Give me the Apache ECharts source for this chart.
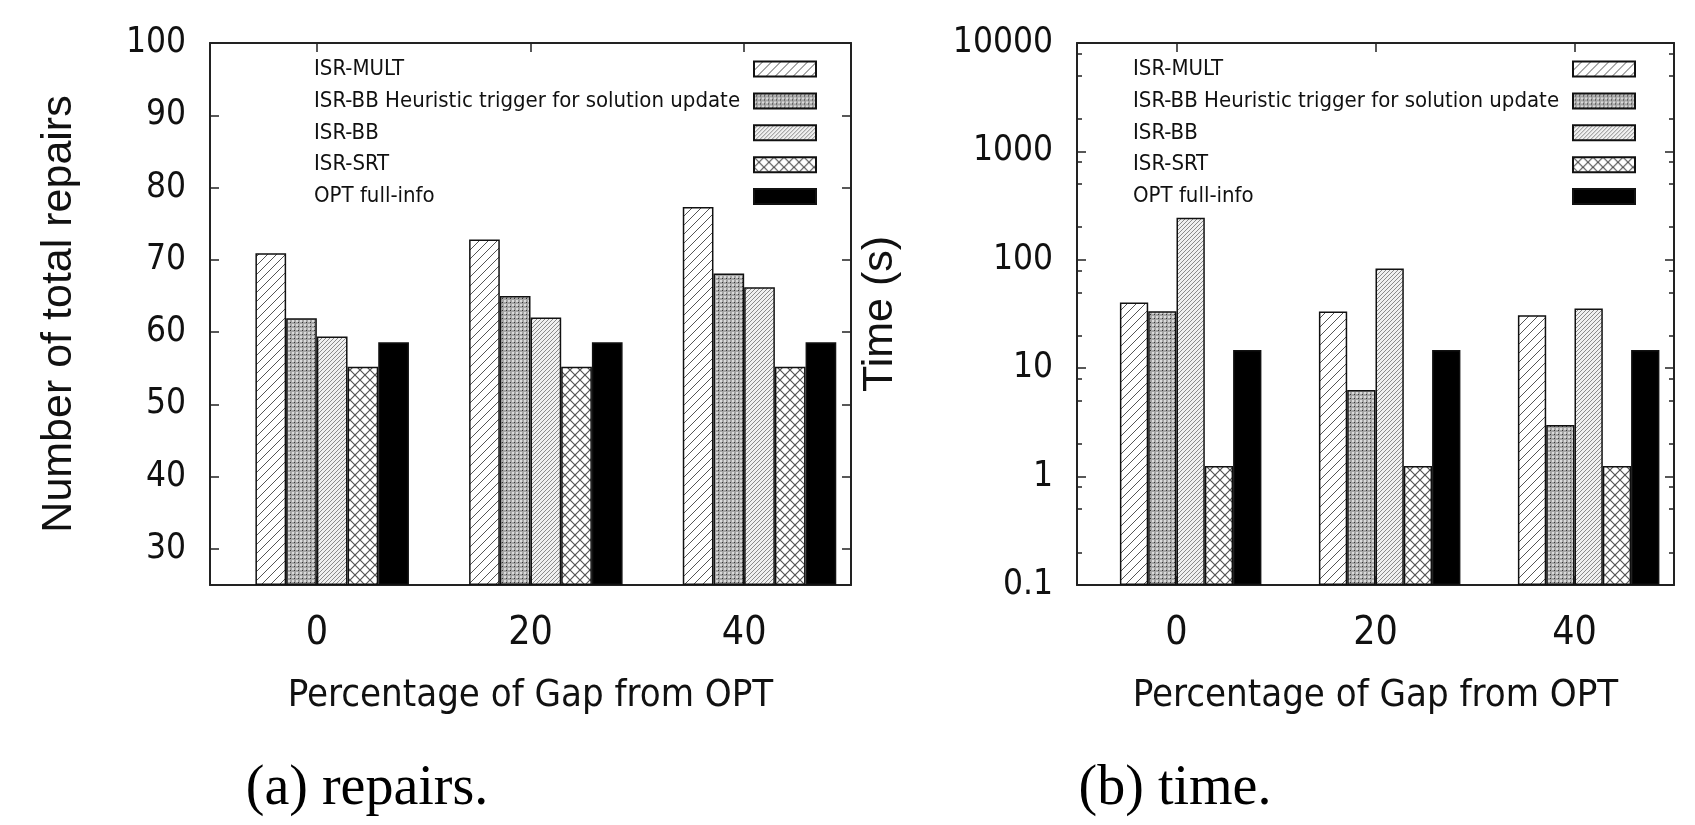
<!DOCTYPE html>
<html>
<head>
<meta charset="utf-8">
<script src="https://cdn.jsdelivr.net/npm/echarts@6/dist/echarts.min.js"></script>
<style>
  html, body { margin: 0; padding: 0; background: #fff; }
  #chart { width: 1695px; height: 825px; }
</style>
</head>
<body>
<div id="chart"></div>
<script>
  // x categories: percentage of gap from OPT
  const gaps = ['0', '20', '40']
  const seriesNames = ['ISR-MULT', 'ISR-BB Heuristic trigger for solution update', 'ISR-BB', 'ISR-SRT', 'OPT full-info']

  // (a) number of total repairs
  const repairsMult = [70.9, 72.8, 77.3]
  const repairsBBHeur = [61.9, 65.0, 68.1]
  const repairsBB = [59.4, 62.0, 66.2]
  const repairsSRT = [55.2, 55.2, 55.2]
  const repairsOPT = [58.6, 58.6, 58.6]

  // (b) time in seconds, log scale
  const timeMult = [40.4, 33.3, 30.8]
  const timeBBHeur = [33.6, 6.3, 3.0]
  const timeBB = [244, 83, 35.5]
  const timeSRT = [1.25, 1.25, 1.25]
  const timeOPT = [14.7, 14.7, 14.7]

  const repairsTicks = [30, 40, 50, 60, 70, 80, 90, 100]
  const timeMinorTicks = [0.2, 0.5, 0.8, 2, 5, 8, 20, 50, 80, 200, 500, 800, 2000, 5000, 8000]

  const narrow = '"Liberation Sans Narrow", "DejaVu Sans Condensed", sans-serif'
  const sans = '"Liberation Sans", Arial, sans-serif'
  const ink = '#111'

  // gnuplot-like fill patterns drawn on small tiles
  function makePattern (size, bg, draw) {
    let c = document.createElement('canvas')
    c.width = size
    c.height = size
    let ctx = c.getContext('2d')
    ctx.fillStyle = bg
    ctx.fillRect(0, 0, size, size)
    draw(ctx, size)
    return { image: c, repeat: 'repeat' }
  }
  function slash (ctx, s) {
    ctx.beginPath()
    ctx.moveTo(-1, s + 1); ctx.lineTo(s + 1, -1)
    ctx.moveTo(-1, 1); ctx.lineTo(1, -1)
    ctx.moveTo(s - 1, s + 1); ctx.lineTo(s + 1, s - 1)
    ctx.stroke()
  }
  function backslash (ctx, s) {
    ctx.beginPath()
    ctx.moveTo(-1, -1); ctx.lineTo(s + 1, s + 1)
    ctx.moveTo(s - 1, -1); ctx.lineTo(s + 1, 1)
    ctx.moveTo(-1, s - 1); ctx.lineTo(1, s + 1)
    ctx.stroke()
  }
  const fills = [
    makePattern(9, '#fff', (ctx, s) => { ctx.strokeStyle = '#555'; ctx.lineWidth = 1; slash(ctx, s) }),
    makePattern(4, '#a4a4a4', (ctx) => { ctx.fillStyle = '#dadada'; ctx.fillRect(0, 0, 2, 2); ctx.fillStyle = '#333'; ctx.fillRect(2, 2, 1, 1) }),
    makePattern(4, '#f0f0f0', (ctx, s) => { ctx.strokeStyle = '#8a8a8a'; ctx.lineWidth = 1; slash(ctx, s) }),
    makePattern(10, '#fff', (ctx, s) => { ctx.strokeStyle = '#555'; ctx.lineWidth = 1.2; slash(ctx, s); backslash(ctx, s) }),
    '#000'
  ]

  function buildSeries (lists, xIndex, yIndex, barWidth) {
    // empty leading slot: gnuplot leaves the cluster shifted right of the tic
    let out = [{
      name: 'gap', type: 'bar', xAxisIndex: xIndex, yAxisIndex: yIndex,
      barWidth: barWidth, barGap: '0%', silent: true, data: gaps.map(() => '-')
    }]
    lists.forEach((values, i) => {
      out.push({
        name: seriesNames[i],
        type: 'bar',
        xAxisIndex: xIndex,
        yAxisIndex: yIndex,
        barWidth: barWidth,
        barGap: '0%',
        itemStyle: { color: fills[i], borderColor: ink, borderWidth: 1.5 },
        data: values
      })
    })
    return out
  }

  const axisLine = { show: true, lineStyle: { color: '#222', width: 2 } }
  const tickIn = (len, extra) => Object.assign({ show: true, inside: true, length: len, lineStyle: { color: '#222', width: 1.5 } }, extra || {})

  function legendAt (left) {
    return {
      data: seriesNames,
      left: left,
      top: 58,
      orient: 'vertical',
      align: 'right',
      icon: 'rect',
      itemWidth: 62,
      itemHeight: 15,
      itemGap: 9.9,
      padding: 0,
      selectedMode: false,
      formatter: n => '{t|' + n + '}',
      textStyle: { rich: { t: { width: 435, align: 'left', fontFamily: narrow, fontSize: 22, lineHeight: 22, color: ink } } }
    }
  }

  function bottomAxis (gridIndex) {
    return {
      type: 'category', gridIndex: gridIndex, data: gaps, position: 'bottom',
      axisLine: Object.assign({ onZero: false }, axisLine),
      axisTick: tickIn(9, { alignWithLabel: true }),
      axisLabel: { margin: 29, fontFamily: narrow, fontSize: 39, color: ink },
      name: 'Percentage of Gap from OPT',
      nameLocation: 'middle',
      nameGap: 92,
      nameTextStyle: { fontFamily: narrow, fontSize: 38, color: ink }
    }
  }
  function topAxis (gridIndex) {
    return {
      type: 'category', gridIndex: gridIndex, data: gaps, position: 'top',
      axisLine: Object.assign({ onZero: false }, axisLine),
      axisTick: tickIn(9, { alignWithLabel: true }),
      axisLabel: { show: false }
    }
  }

  const option = {
    animation: false,
    grid: [
      { left: 210, top: 43, width: 641, height: 542 },
      { left: 1077, top: 43, width: 597, height: 542 }
    ],
    legend: [legendAt(314), legendAt(1133)],
    xAxis: [bottomAxis(0), topAxis(0), bottomAxis(1), topAxis(1)],
    yAxis: [
      {
        type: 'value', gridIndex: 0, position: 'left', min: 25, max: 100, startValue: 25,
        axisLine: axisLine,
        axisTick: tickIn(9, { customValues: repairsTicks }),
        axisLabel: { customValues: repairsTicks, margin: 24, fontFamily: narrow, fontSize: 35, color: ink },
        splitLine: { show: false },
        name: 'Number of total repairs',
        nameLocation: 'middle',
        nameGap: 129,
        nameTextStyle: { fontFamily: sans, fontSize: 43, color: ink }
      },
      {
        type: 'value', gridIndex: 0, position: 'right', min: 25, max: 100,
        axisLine: axisLine,
        axisTick: tickIn(9, { customValues: repairsTicks }),
        axisLabel: { show: false },
        splitLine: { show: false }
      },
      {
        type: 'log', logBase: 10, gridIndex: 1, position: 'left', min: 0.1, max: 10000, startValue: 0.1,
        axisLine: axisLine,
        axisTick: tickIn(9),
        axisLabel: { margin: 24, fontFamily: narrow, fontSize: 35, color: ink, formatter: v => String(+(+v).toPrecision(6)) },
        splitLine: { show: false },
        name: 'Time (s)',
        nameLocation: 'middle',
        nameGap: 175,
        nameTextStyle: { fontFamily: sans, fontSize: 43, color: ink }
      },
      {
        type: 'log', logBase: 10, gridIndex: 1, position: 'right', min: 0.1, max: 10000,
        axisLine: axisLine,
        axisTick: tickIn(9),
        axisLabel: { show: false },
        splitLine: { show: false }
      },
      // minor log tics (2, 5, 8 per decade) on a plain exponent scale
      {
        type: 'value', gridIndex: 1, position: 'left', min: -1, max: 4,
        axisLine: { show: false },
        axisTick: tickIn(5, { customValues: timeMinorTicks.map(Math.log10) }),
        axisLabel: { show: false },
        splitLine: { show: false }
      },
      {
        type: 'value', gridIndex: 1, position: 'right', min: -1, max: 4,
        axisLine: { show: false },
        axisTick: tickIn(5, { customValues: timeMinorTicks.map(Math.log10) }),
        axisLabel: { show: false },
        splitLine: { show: false }
      }
    ],
    series: [].concat(
      buildSeries([repairsMult, repairsBBHeur, repairsBB, repairsSRT, repairsOPT], 0, 0, 30.7),
      buildSeries([timeMult, timeBBHeur, timeBB, timeSRT, timeOPT], 2, 2, 28.3)
    ),
    graphic: [
      { type: 'text', x: 367, y: 789, style: { text: '(a) repairs.', fontFamily: '"Liberation Serif", serif', fontSize: 56, fill: '#000', align: 'center', verticalAlign: 'middle' } },
      { type: 'text', x: 1175, y: 789, style: { text: '(b) time.', fontFamily: '"Liberation Serif", serif', fontSize: 56, fill: '#000', align: 'center', verticalAlign: 'middle' } }
    ]
  }

  let myChart = echarts.init(document.getElementById('chart'))
  myChart.setOption(option)
</script>
</body>
</html>
